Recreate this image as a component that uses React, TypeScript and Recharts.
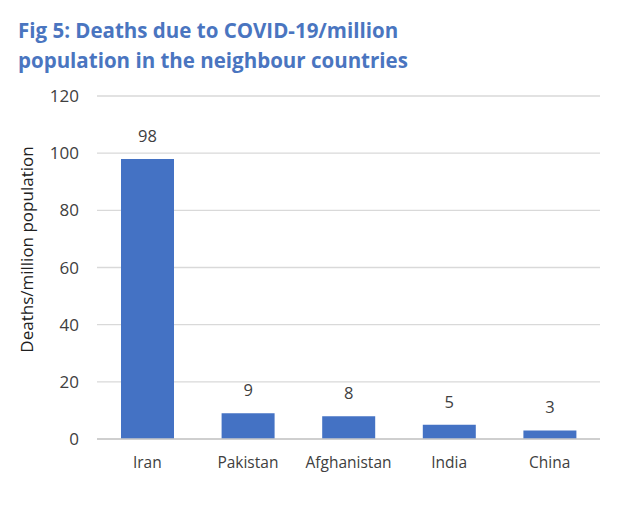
import React from "react";
import { BarChart, Bar, XAxis, YAxis, CartesianGrid, LabelList } from "recharts";

const countries = ["Iran", "Pakistan", "Afghanistan", "India", "China"];
const deathsPerMillion = [98, 9, 8, 5, 3];
const yTicks = [0, 20, 40, 60, 80, 100, 120];

const data = countries.map((country, i) => ({ country, deaths: deathsPerMillion[i] }));

const FONT = "'Open Sans', 'Noto Sans', sans-serif";

export default function App() {
  return (
    <div style={{ position: "absolute", left: 0, top: 0, width: 640, height: 512, background: "#fff", fontFamily: FONT }}>
      <div
        style={{
          position: "absolute",
          left: 18,
          top: 15,
          color: "#4a75c0",
          fontWeight: 700,
          fontSize: 20.5,
          lineHeight: "30px",
          whiteSpace: "nowrap",
        }}
      >
        Fig 5: Deaths due to COVID-19/million
        <br />
        population in the neighbour countries
      </div>
      <BarChart
        width={640}
        height={512}
        data={data}
        margin={{ top: 96, right: 40, bottom: 43, left: 37 }}
        style={{ position: "absolute", left: 0, top: 0 }}
      >
        <CartesianGrid vertical={false} stroke="#d9d9d9" strokeWidth={1.3} />
        <XAxis
          dataKey="country"
          height={30}
          tickLine={false}
          axisLine={{ stroke: "#c8c8c8", strokeWidth: 1.5 }}
          tick={{ fill: "#404040", fontSize: 15.5, fontFamily: FONT }}
          tickMargin={12}
        />
        <YAxis
          width={60}
          domain={[0, 120]}
          ticks={yTicks}
          interval={0}
          tickLine={false}
          axisLine={false}
          tick={{ fill: "#404040", fontSize: 17, fontFamily: FONT }}
          tickMargin={12}
          label={{
            value: "Deaths/million population",
            angle: -90,
            position: "insideLeft",
            dx: -15,
            dy: -18,
            style: { textAnchor: "middle", fill: "#202020", fontSize: 17, fontFamily: FONT },
          }}
        />
        <Bar dataKey="deaths" fill="#4472c4" barSize={53} isAnimationActive={false}>
          <LabelList dataKey="deaths" position="top" offset={17} fill="#404040" fontSize={16.5} fontFamily={FONT} />
        </Bar>
      </BarChart>
    </div>
  );
}
